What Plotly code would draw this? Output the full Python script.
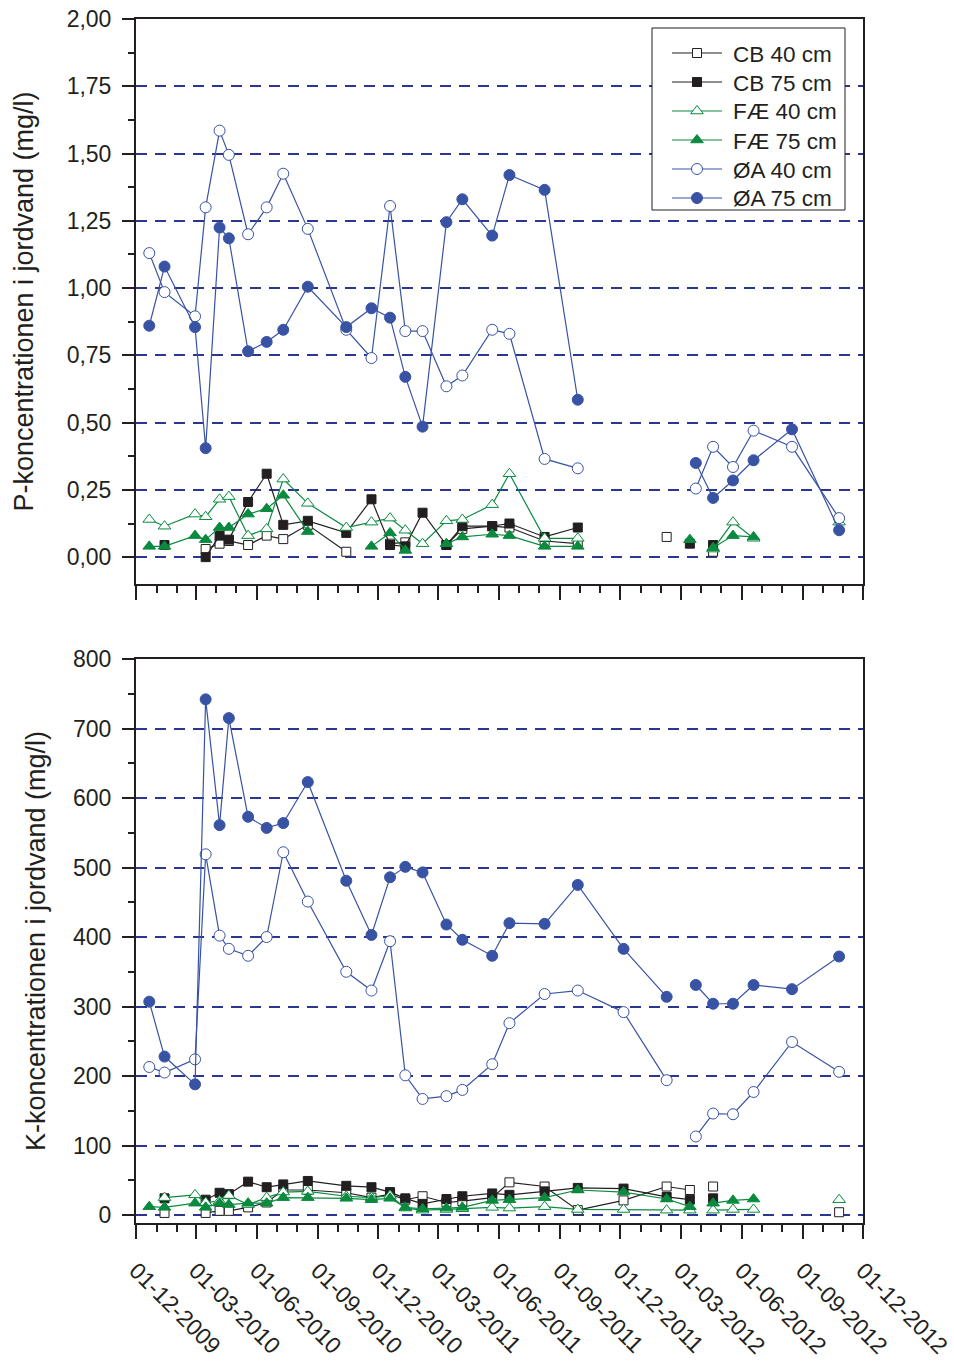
import math
import plotly.graph_objects as go
from plotly.subplots import make_subplots

N = None

# Sampling dates (union over all sites)
DATES = [
    "2009-12-21", "2010-01-13", "2010-02-28", "2010-03-16", "2010-04-06",
    "2010-04-20", "2010-05-19", "2010-06-16", "2010-07-11", "2010-08-17",
    "2010-10-14", "2010-11-21", "2010-12-19", "2011-01-11", "2011-02-06",
    "2011-03-14", "2011-04-07", "2011-05-22", "2011-06-17", "2011-08-09",
    "2011-09-28", "2011-12-06", "2012-02-09", "2012-03-15", "2012-03-24",
    "2012-04-19", "2012-05-19", "2012-06-19", "2012-08-16", "2012-10-26",
]

SERIES_NAMES = ["CB 40 cm", "CB 75 cm", "FÆ 40 cm", "FÆ 75 cm", "ØA 40 cm", "ØA 75 cm"]

# P concentration (mg/l); None = no sample
P_CB40 = [N, N, N, 0.03, 0.05, 0.06, 0.045, 0.08, 0.067, 0.12, 0.02, N, 0.05, 0.055, N,
          0.045, 0.105, 0.115, 0.11, 0.06, 0.05, N, 0.075, N, N, 0.02, N, N, N, N]
P_CB75 = [N, 0.045, N, 0.0, 0.08, 0.065, 0.205, 0.31, 0.12, 0.135, 0.09, 0.215, 0.045, 0.04, 0.165,
          0.045, 0.115, 0.115, 0.125, 0.075, 0.11, N, N, 0.05, N, 0.045, N, N, N, N]
P_FAE40 = [0.14, 0.115, 0.16, 0.15, 0.215, 0.225, 0.08, 0.105, 0.29, 0.20, 0.11, 0.13, 0.145, 0.10, 0.05,
           0.135, 0.14, 0.195, 0.31, 0.07, 0.07, N, N, N, N, 0.03, 0.13, 0.07, N, 0.13]
P_FAE75 = [0.04, 0.04, 0.08, 0.065, 0.11, 0.11, 0.16, 0.18, 0.23, 0.095, N, 0.04, 0.09, 0.025, N,
           0.05, 0.075, 0.085, 0.08, 0.04, 0.04, N, N, 0.065, N, 0.035, 0.08, 0.075, N, N]
P_OA40 = [1.13, 0.985, 0.895, 1.30, 1.585, 1.495, 1.20, 1.30, 1.425, 1.22, 0.845, 0.74, 1.305, 0.84, 0.84,
          0.635, 0.675, 0.845, 0.83, 0.365, 0.33, N, N, N, 0.255, 0.41, 0.335, 0.47, 0.41, 0.145]
P_OA75 = [0.86, 1.08, 0.855, 0.405, 1.225, 1.185, 0.765, 0.80, 0.845, 1.005, 0.855, 0.925, 0.89, 0.67, 0.485,
          1.245, 1.33, 1.195, 1.42, 1.365, 0.585, N, N, N, 0.35, 0.22, 0.285, 0.36, 0.475, 0.10]

# K concentration (mg/l); None = no sample
K_CB40 = [N, 3, N, 3, 6, 6, 11, 18, 36, 36, 32, 25, 30, 22, 27,
          18, 20, 25, 47, 41, 7, 21, 41, 36, N, 41, N, N, N, 4]
K_CB75 = [N, 24, N, 22, 32, 30, 48, 40, 44, 49, 42, 40, 33, 24, 16,
          23, 27, 31, 29, 34, 39, 38, 26, 22, N, 24, N, N, N, N]
K_FAE40 = [N, 25, 29, 18, 20, 28, 15, 25, 33, 34, 27, 25, 28, 10, 7,
           8, 9, 11, 10, 12, 8, 8, 7, 7, N, 7, 8, 8, N, 22]
K_FAE75 = [12, 11, 17, 11, 17, 15, 17, 17, 25, 25, 24, 22, 24, 11, 9,
           10, 11, 21, 22, 25, 36, 33, 23, 12, N, 17, 21, 23, N, N]
K_OA40 = [213, 205, 224, 519, 402, 383, 373, 400, 522, 451, 350, 323, 394, 201, 167,
          171, 180, 217, 276, 318, 323, 292, 194, N, 113, 146, 145, 177, 249, 206]
K_OA75 = [307, 228, 188, 742, 561, 715, 573, 557, 564, 623, 481, 403, 486, 501, 493,
          418, 396, 373, 420, 419, 475, 383, 314, N, 331, 304, 304, 331, 325, 372]

P_VALUES = [P_CB40, P_CB75, P_FAE40, P_FAE75, P_OA40, P_OA75]
K_VALUES = [K_CB40, K_CB75, K_FAE40, K_FAE75, K_OA40, K_OA75]

INK = "#231f20"
GREEN = "#0a8a3e"
BLUE = "#3953a4"
GRID = "#2b3592"
FONT = "Liberation Sans, Arial, sans-serif"

# colour, marker symbol, filled?, marker size
STYLE = [
    (INK, "square", False, 9),
    (INK, "square", True, 9),
    (GREEN, "triangle-up", False, 11),
    (GREEN, "triangle-up", True, 11),
    (BLUE, "circle", False, 11),
    (BLUE, "circle", True, 11),
]

# figure geometry (pixels)
W, H = 954, 1371
ML, MR, MT, MB = 136, 91, 19, 148
PW, PH = W - ML - MR, H - MT - MB

fig = make_subplots(rows=2, cols=1, shared_xaxes=False)

for row, values_list in ((1, P_VALUES), (2, K_VALUES)):
    for name, vals, (col, sym, filled, size) in zip(SERIES_NAMES, values_list, STYLE):
        fig.add_trace(
            go.Scatter(
                x=DATES, y=vals, name=name, mode="lines+markers",
                connectgaps=False, showlegend=False,
                line=dict(color=col, width=1.2),
                marker=dict(symbol=sym, size=size,
                            color=col if filled else "white",
                            line=dict(color=col, width=1)),
            ),
            row=row, col=1,
        )

x_common = dict(
    type="date", range=["2009-12-01", "2012-12-01"], automargin=False,
    tick0="2009-12-01", dtick="M3", ticks="outside", ticklen=14, tickwidth=2, tickcolor=INK,
    showline=True, linewidth=2, linecolor=INK, mirror=True, showgrid=False, zeroline=False,
    minor=dict(dtick="M1", ticks="outside", ticklen=7, tickwidth=2, tickcolor=INK, showgrid=False),
)
y_common = dict(
    automargin=False, ticks="outside", ticklen=12, tickwidth=2, tickcolor=INK,
    showline=True, linewidth=2, linecolor=INK, mirror=True,
    showgrid=True, gridcolor=GRID, gridwidth=2, griddash="11px,8px", zeroline=False,
    tickfont=dict(size=23, color=INK), ticklabelstandoff=6,
)

fig.update_xaxes(**x_common)
fig.update_xaxes(showticklabels=False, row=1, col=1)
fig.update_xaxes(showticklabels=True, tickformat="%d-%m-%Y", tickangle=45, ticklabelstandoff=9,
                 tickfont=dict(size=23, color=INK), row=2, col=1)

fig.update_yaxes(**y_common)
fig.update_yaxes(range=[-0.1, 2.0], tick0=0, dtick=0.25, tickformat=".2f",
                 minor=dict(dtick=0.125, ticks="outside", ticklen=6, tickwidth=2, tickcolor=INK, showgrid=False),
                 title=dict(text="P-koncentrationen i jordvand (mg/l)", font=dict(size=27, color=INK), standoff=25),
                 domain=[0.5307, 1.0], row=1, col=1)
fig.update_yaxes(range=[-11.5, 800], tick0=0, dtick=100,
                 minor=dict(dtick=50, ticks="outside", ticklen=6, tickwidth=2, tickcolor=INK, showgrid=False),
                 title=dict(text="K-koncentrationen i jordvand (mg/l)", font=dict(size=27, color=INK), standoff=20),
                 domain=[0.0, 0.4684], row=2, col=1)


# ---- legend box drawn in paper coordinates (pixel helpers) ----
def px(xp):
    return (xp - ML) / PW


def py(yp):
    return (H - MB - yp) / PH


BOX = (652, 28, 845, 210)          # left, top, right, bottom in px
ROW0, ROW_STEP = 53, 29
LINE_X0, LINE_X1, MARK_X, TEXT_X = 672, 722, 697, 731

shapes = [dict(type="rect", xref="paper", yref="paper", layer="above",
               x0=px(BOX[0]), x1=px(BOX[2]), y0=py(BOX[3]), y1=py(BOX[1]),
               line=dict(color=INK, width=1), fillcolor="white")]
annotations = []
for i, (name, (col, sym, filled, size)) in enumerate(zip(SERIES_NAMES, STYLE)):
    yc = ROW0 + i * ROW_STEP
    fill = col if filled else "white"
    shapes.append(dict(type="line", xref="paper", yref="paper", layer="above",
                       x0=px(LINE_X0), x1=px(LINE_X1), y0=py(yc), y1=py(yc),
                       line=dict(color=col, width=1.2)))
    r = size / 2
    if sym == "square":
        shapes.append(dict(type="rect", xref="paper", yref="paper", layer="above",
                           x0=px(MARK_X - r), x1=px(MARK_X + r), y0=py(yc + r), y1=py(yc - r),
                           line=dict(color=col, width=1), fillcolor=fill))
    elif sym == "circle":
        shapes.append(dict(type="circle", xref="paper", yref="paper", layer="above",
                           x0=px(MARK_X - r), x1=px(MARK_X + r), y0=py(yc + r), y1=py(yc - r),
                           line=dict(color=col, width=1), fillcolor=fill))
    else:
        rt = r * 2 / math.sqrt(3)
        pts = [(MARK_X - rt, yc + r / 2), (MARK_X + rt, yc + r / 2), (MARK_X, yc - r)]
        path = "M " + " L ".join(f"{px(a):.5f},{py(b):.5f}" for a, b in pts) + " Z"
        shapes.append(dict(type="path", xref="paper", yref="paper", layer="above", path=path,
                           line=dict(color=col, width=1), fillcolor=fill))
    annotations.append(dict(xref="paper", yref="paper", x=px(TEXT_X), y=py(yc + 1),
                            xanchor="left", yanchor="middle", showarrow=False, text=name,
                            font=dict(size=22.5, color=INK, family=FONT)))

fig.update_layout(
    width=W, height=H,
    margin=dict(l=ML, r=MR, t=MT, b=MB, autoexpand=False),
    paper_bgcolor="white", plot_bgcolor="white",
    font=dict(family=FONT, color=INK),
    separators=",.",
    showlegend=False,
    shapes=shapes,
    annotations=annotations,
)

fig.write_html("out.html", include_plotlyjs=True, config={"displayModeBar": False})
